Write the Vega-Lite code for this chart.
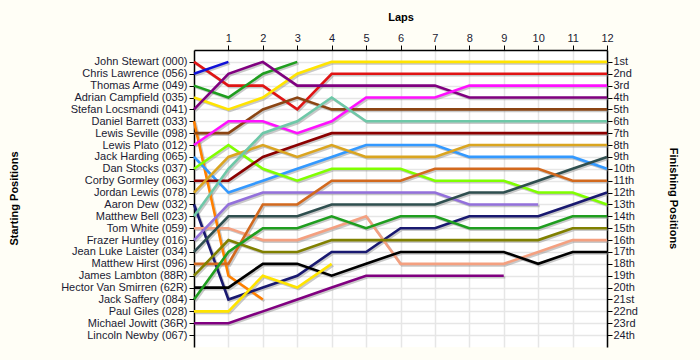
{
  "$schema": "https://vega.github.io/schema/vega-lite/v6.json",
  "width": 413,
  "height": 297,
  "autosize": "none",
  "padding": {"left": 194, "top": 50, "right": 93, "bottom": 13},
  "background": "#fffef6",
  "config": {"view": {"stroke": null, "fill": "#ffffff"}, "font": "Liberation Sans"},
  "data": {"values": [
    {"d":"000","l":0,"p":1},{"d":"000","l":1,"p":3},{"d":"000","l":2,"p":3},{"d":"000","l":3,"p":5},{"d":"000","l":4,"p":2},{"d":"000","l":5,"p":2},{"d":"000","l":6,"p":2},{"d":"000","l":7,"p":2},{"d":"000","l":8,"p":2},{"d":"000","l":9,"p":2},{"d":"000","l":10,"p":2},{"d":"000","l":11,"p":2},{"d":"000","l":12,"p":2},
    {"d":"056","l":0,"p":2},{"d":"056","l":1,"p":1},
    {"d":"049","l":0,"p":3},{"d":"049","l":1,"p":4},{"d":"049","l":2,"p":2},{"d":"049","l":3,"p":1},
    {"d":"035","l":0,"p":4},{"d":"035","l":1,"p":5},{"d":"035","l":2,"p":4},{"d":"035","l":3,"p":2},{"d":"035","l":4,"p":1},{"d":"035","l":5,"p":1},{"d":"035","l":6,"p":1},{"d":"035","l":7,"p":1},{"d":"035","l":8,"p":1},{"d":"035","l":9,"p":1},{"d":"035","l":10,"p":1},{"d":"035","l":11,"p":1},{"d":"035","l":12,"p":1},
    {"d":"041","l":0,"p":5},{"d":"041","l":1,"p":2},{"d":"041","l":2,"p":1},{"d":"041","l":3,"p":3},{"d":"041","l":4,"p":3},{"d":"041","l":5,"p":3},{"d":"041","l":6,"p":3},{"d":"041","l":7,"p":3},{"d":"041","l":8,"p":4},{"d":"041","l":9,"p":4},{"d":"041","l":10,"p":4},{"d":"041","l":11,"p":4},{"d":"041","l":12,"p":4},
    {"d":"033","l":0,"p":6},{"d":"033","l":1,"p":19},{"d":"033","l":2,"p":21},
    {"d":"098","l":0,"p":7},{"d":"098","l":1,"p":7},{"d":"098","l":2,"p":5},{"d":"098","l":3,"p":4},{"d":"098","l":4,"p":5},{"d":"098","l":5,"p":5},{"d":"098","l":6,"p":5},{"d":"098","l":7,"p":5},{"d":"098","l":8,"p":5},{"d":"098","l":9,"p":5},{"d":"098","l":10,"p":5},{"d":"098","l":11,"p":5},{"d":"098","l":12,"p":5},
    {"d":"012","l":0,"p":8},{"d":"012","l":1,"p":6},{"d":"012","l":2,"p":6},{"d":"012","l":3,"p":7},{"d":"012","l":4,"p":6},{"d":"012","l":5,"p":4},{"d":"012","l":6,"p":4},{"d":"012","l":7,"p":4},{"d":"012","l":8,"p":3},{"d":"012","l":9,"p":3},{"d":"012","l":10,"p":3},{"d":"012","l":11,"p":3},{"d":"012","l":12,"p":3},
    {"d":"065","l":0,"p":9},{"d":"065","l":1,"p":12},{"d":"065","l":2,"p":11},{"d":"065","l":3,"p":10},{"d":"065","l":4,"p":9},{"d":"065","l":5,"p":8},{"d":"065","l":6,"p":8},{"d":"065","l":7,"p":8},{"d":"065","l":8,"p":9},{"d":"065","l":9,"p":9},{"d":"065","l":10,"p":9},{"d":"065","l":11,"p":9},{"d":"065","l":12,"p":10},
    {"d":"037","l":0,"p":10},{"d":"037","l":1,"p":8},{"d":"037","l":2,"p":10},{"d":"037","l":3,"p":11},{"d":"037","l":4,"p":10},{"d":"037","l":5,"p":10},{"d":"037","l":6,"p":10},{"d":"037","l":7,"p":11},{"d":"037","l":8,"p":11},{"d":"037","l":9,"p":11},{"d":"037","l":10,"p":12},{"d":"037","l":11,"p":12},{"d":"037","l":12,"p":13},
    {"d":"063","l":0,"p":11},{"d":"063","l":1,"p":11},{"d":"063","l":2,"p":9},{"d":"063","l":3,"p":8},{"d":"063","l":4,"p":7},{"d":"063","l":5,"p":7},{"d":"063","l":6,"p":7},{"d":"063","l":7,"p":7},{"d":"063","l":8,"p":7},{"d":"063","l":9,"p":7},{"d":"063","l":10,"p":7},{"d":"063","l":11,"p":7},{"d":"063","l":12,"p":7},
    {"d":"078","l":0,"p":12},{"d":"078","l":1,"p":9},{"d":"078","l":2,"p":8},{"d":"078","l":3,"p":9},{"d":"078","l":4,"p":8},{"d":"078","l":5,"p":9},{"d":"078","l":6,"p":9},{"d":"078","l":7,"p":9},{"d":"078","l":8,"p":8},{"d":"078","l":9,"p":8},{"d":"078","l":10,"p":8},{"d":"078","l":11,"p":8},{"d":"078","l":12,"p":8},
    {"d":"032","l":0,"p":13},{"d":"032","l":1,"p":21},{"d":"032","l":2,"p":20},{"d":"032","l":3,"p":19},{"d":"032","l":4,"p":17},{"d":"032","l":5,"p":17},{"d":"032","l":6,"p":15},{"d":"032","l":7,"p":15},{"d":"032","l":8,"p":14},{"d":"032","l":9,"p":14},{"d":"032","l":10,"p":14},{"d":"032","l":11,"p":13},{"d":"032","l":12,"p":12},
    {"d":"023","l":0,"p":14},{"d":"023","l":1,"p":10},{"d":"023","l":2,"p":7},{"d":"023","l":3,"p":6},{"d":"023","l":4,"p":4},{"d":"023","l":5,"p":6},{"d":"023","l":6,"p":6},{"d":"023","l":7,"p":6},{"d":"023","l":8,"p":6},{"d":"023","l":9,"p":6},{"d":"023","l":10,"p":6},{"d":"023","l":11,"p":6},{"d":"023","l":12,"p":6},
    {"d":"059","l":0,"p":15},{"d":"059","l":1,"p":15},{"d":"059","l":2,"p":16},{"d":"059","l":3,"p":16},{"d":"059","l":4,"p":15},{"d":"059","l":5,"p":14},{"d":"059","l":6,"p":18},{"d":"059","l":7,"p":18},{"d":"059","l":8,"p":18},{"d":"059","l":9,"p":18},{"d":"059","l":10,"p":17},{"d":"059","l":11,"p":16},{"d":"059","l":12,"p":16},
    {"d":"016","l":0,"p":16},{"d":"016","l":1,"p":13},{"d":"016","l":2,"p":12},{"d":"016","l":3,"p":12},{"d":"016","l":4,"p":12},{"d":"016","l":5,"p":12},{"d":"016","l":6,"p":12},{"d":"016","l":7,"p":12},{"d":"016","l":8,"p":13},{"d":"016","l":9,"p":13},{"d":"016","l":10,"p":13},
    {"d":"034","l":0,"p":17},{"d":"034","l":1,"p":14},{"d":"034","l":2,"p":14},{"d":"034","l":3,"p":14},{"d":"034","l":4,"p":13},{"d":"034","l":5,"p":13},{"d":"034","l":6,"p":13},{"d":"034","l":7,"p":13},{"d":"034","l":8,"p":12},{"d":"034","l":9,"p":12},{"d":"034","l":10,"p":11},{"d":"034","l":11,"p":10},{"d":"034","l":12,"p":9},
    {"d":"096","l":0,"p":18},{"d":"096","l":1,"p":18},{"d":"096","l":2,"p":13},{"d":"096","l":3,"p":13},{"d":"096","l":4,"p":11},{"d":"096","l":5,"p":11},{"d":"096","l":6,"p":11},{"d":"096","l":7,"p":10},{"d":"096","l":8,"p":10},{"d":"096","l":9,"p":10},{"d":"096","l":10,"p":10},{"d":"096","l":11,"p":11},{"d":"096","l":12,"p":11},
    {"d":"88R","l":0,"p":19},{"d":"88R","l":1,"p":16},{"d":"88R","l":2,"p":17},{"d":"88R","l":3,"p":17},{"d":"88R","l":4,"p":16},{"d":"88R","l":5,"p":16},{"d":"88R","l":6,"p":16},{"d":"88R","l":7,"p":16},{"d":"88R","l":8,"p":16},{"d":"88R","l":9,"p":16},{"d":"88R","l":10,"p":16},{"d":"88R","l":11,"p":15},{"d":"88R","l":12,"p":15},
    {"d":"62R","l":0,"p":20},{"d":"62R","l":1,"p":20},{"d":"62R","l":2,"p":18},{"d":"62R","l":3,"p":18},{"d":"62R","l":4,"p":19},{"d":"62R","l":5,"p":18},{"d":"62R","l":6,"p":17},{"d":"62R","l":7,"p":17},{"d":"62R","l":8,"p":17},{"d":"62R","l":9,"p":17},{"d":"62R","l":10,"p":18},{"d":"62R","l":11,"p":17},{"d":"62R","l":12,"p":17},
    {"d":"084","l":0,"p":21},{"d":"084","l":1,"p":17},{"d":"084","l":2,"p":15},{"d":"084","l":3,"p":15},{"d":"084","l":4,"p":14},{"d":"084","l":5,"p":15},{"d":"084","l":6,"p":14},{"d":"084","l":7,"p":14},{"d":"084","l":8,"p":15},{"d":"084","l":9,"p":15},{"d":"084","l":10,"p":15},{"d":"084","l":11,"p":14},{"d":"084","l":12,"p":14},
    {"d":"028","l":0,"p":22},{"d":"028","l":1,"p":22},{"d":"028","l":2,"p":19},{"d":"028","l":3,"p":20},{"d":"028","l":4,"p":18},
    {"d":"36R","l":0,"p":23},{"d":"36R","l":1,"p":23},{"d":"36R","l":2,"p":22},{"d":"36R","l":3,"p":21},{"d":"36R","l":4,"p":20},{"d":"36R","l":5,"p":19},{"d":"36R","l":6,"p":19},{"d":"36R","l":7,"p":19},{"d":"36R","l":8,"p":19},{"d":"36R","l":9,"p":19}
  ]},
  "resolve": {"axis": {"y": "independent"}},
  "encoding": {
    "x": {"field": "l", "type": "quantitative", "scale": {"domain": [0, 12], "nice": false, "zero": false},
      "axis": {"orient": "top", "values": [1,2,3,4,5,6,7,8,9,10,11,12], "tickCount": 12, "title": "Laps", "titleFontWeight": "bold", "titleFontSize": 11, "titlePadding": 10, "titleColor": "#000000",
        "labelFontSize": 11, "labelColor": "#1a1a33", "labelPadding": 2, "labelOverlap": false, "labelFlush": false, "labelBound": false, "tickSize": 5, "tickColor": "#000000", "domainColor": "#000000", "domainWidth": 1.5,
        "grid": true, "gridColor": "#e6e6e6", "gridWidth": 1.5}}
  },
  "layer": [
    {
      "mark": {"type": "line", "strokeWidth": 2.6, "color": "#888888", "opacity": 0.45, "xOffset": 1.5, "yOffset": 1.5},
      "encoding": {
        "detail": {"field": "d"},
        "y": {"field": "p", "type": "quantitative", "scale": {"domain": [0, 25], "reverse": true, "nice": false, "zero": false},
          "axis": {"orient": "left", "values": [1,2,3,4,5,6,7,8,9,10,11,12,13,14,15,16,17,18,19,20,21,22,23,24],
            "labelExpr": "['', 'John Stewart (000)', 'Chris Lawrence (056)', 'Thomas Arme (049)', 'Adrian Campfield (035)', 'Stefan Locsmandi (041)', 'Daniel Barrett (033)', 'Lewis Seville (098)', 'Lewis Plato (012)', 'Jack Harding (065)', 'Dan Stocks (037)', 'Corby Gormley (063)', 'Jordan Lewis (078)', 'Aaron Dew (032)', 'Matthew Bell (023)', 'Tom White (059)', 'Frazer Huntley (016)', 'Jean Luke Laister (034)', 'Matthew Hirst (096)', 'James Lambton (88R)', 'Hector Van Smirren (62R)', 'Jack Saffery (084)', 'Paul Giles (028)', 'Michael Jowitt (36R)', 'Lincoln Newby (067)'][datum.value]",
            "labelFontSize": 11, "labelColor": "#1a1a33", "labelPadding": 2, "labelOverlap": false, "labelFlush": false, "labelBound": false, "tickSize": 5, "tickColor": "#000000", "domainColor": "#000000", "domainWidth": 1.5,
            "grid": true, "gridColor": "#e6e6e6", "gridWidth": 1.5,
            "title": "Starting Positions", "titleFontWeight": "bold", "titleFontSize": 11, "titleColor": "#000000", "titleAngle": -90, "titleX": -180, "titleY": 148, "titleAlign": "center", "titleBaseline": "middle"}}
      }
    },
    {
      "mark": {"type": "line", "strokeWidth": 2.6},
      "encoding": {
        "y": {"field": "p", "type": "quantitative", "scale": {"domain": [0, 25], "reverse": true, "nice": false, "zero": false},
          "axis": {"orient": "right", "values": [1,2,3,4,5,6,7,8,9,10,11,12,13,14,15,16,17,18,19,20,21,22,23,24],
            "labelExpr": "datum.value + ((datum.value % 10 == 1 && datum.value != 11) ? 'st' : (datum.value % 10 == 2 && datum.value != 12) ? 'nd' : (datum.value % 10 == 3 && datum.value != 13) ? 'rd' : 'th')",
            "labelFontSize": 11, "labelColor": "#1a1a33", "labelPadding": 1, "labelOverlap": false, "labelFlush": false, "labelBound": false, "tickSize": 5, "tickColor": "#000000", "domainColor": "#000000", "domainWidth": 1.5, "grid": false,
            "title": "Finishing Positions", "titleFontWeight": "bold", "titleFontSize": 11, "titleColor": "#000000", "titleAngle": 90, "titleX": 65, "titleY": 148, "titleAlign": "center", "titleBaseline": "middle"}},
        "color": {"field": "d", "type": "nominal", "legend": null,
          "scale": {"domain": ["000","056","049","035","041","033","098","012","065","037","063","078","032","023","059","016","034","096","88R","62R","084","028","36R"],
            "range": ["#e01414","#1010d8","#1f9e1f","#ffe400","#800080","#ff8000","#8b4513","#ff10ff","#3399ff","#80ff00","#8b0000","#daa520","#191970","#6ec8a8","#f4a080","#9370db","#2f4f4f","#d2691e","#808000","#000000","#1f9e1f","#ffe400","#800080"]}}
      }
    }
  ]
}
